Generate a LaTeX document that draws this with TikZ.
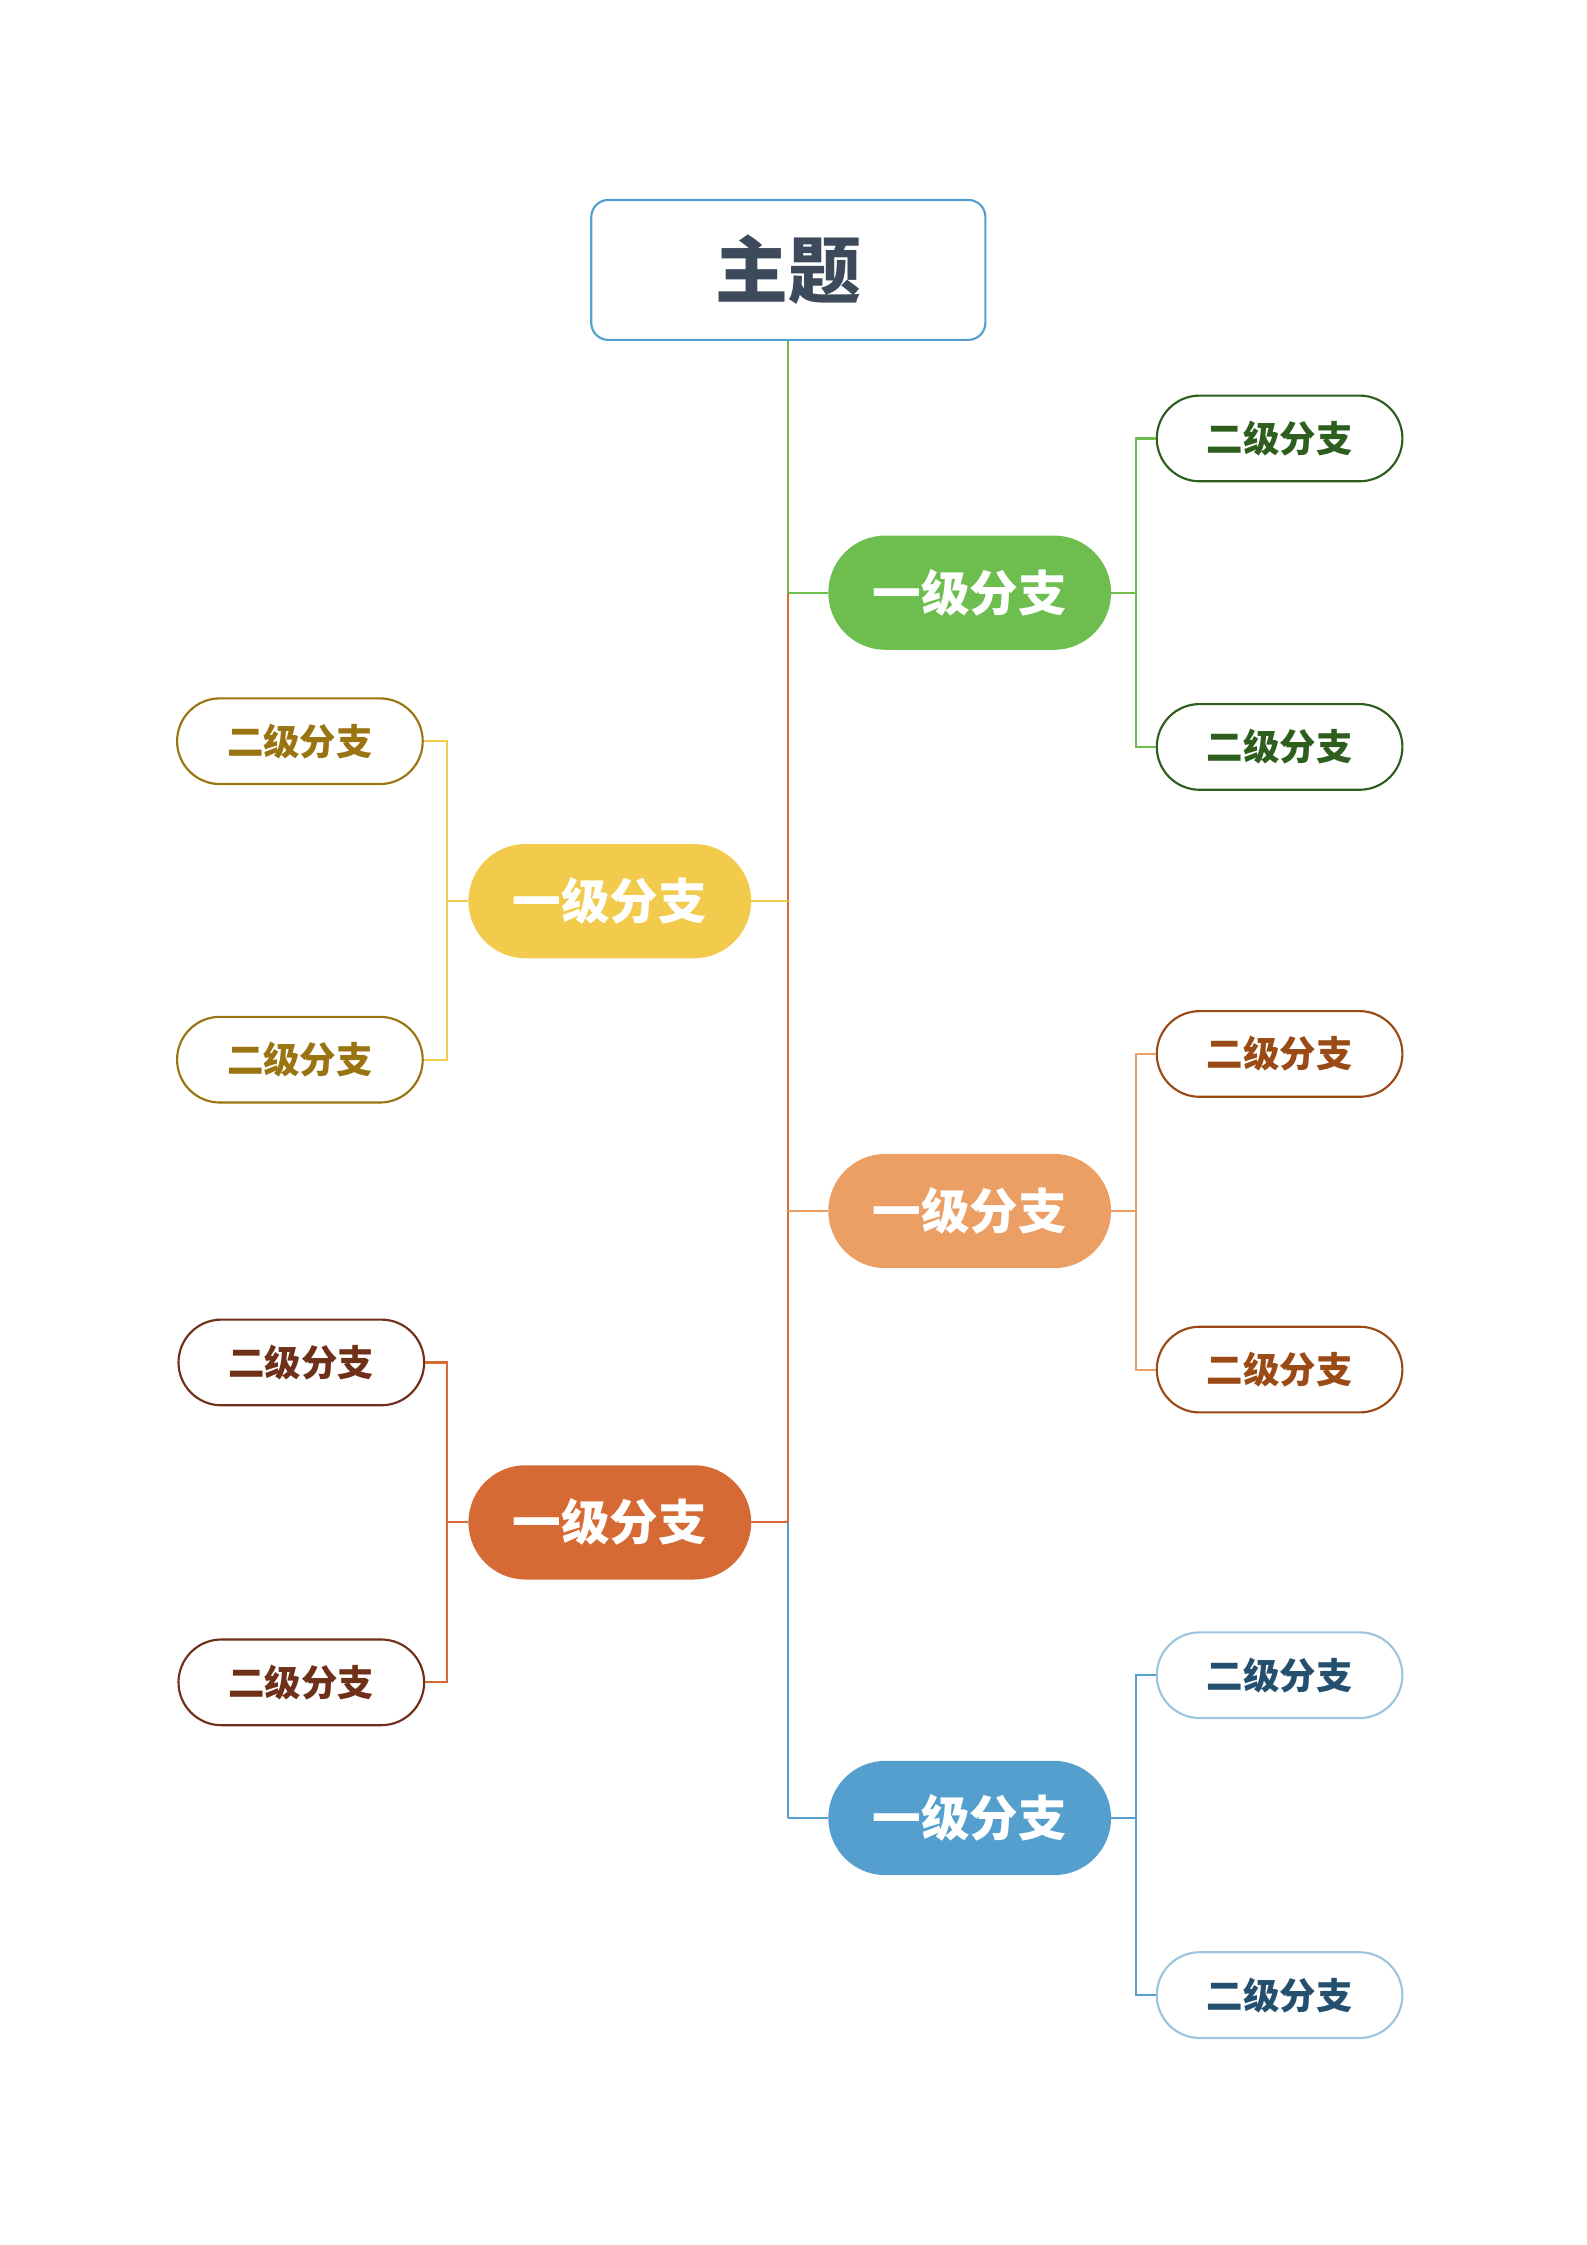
\documentclass[tikz,border=0pt]{standalone}
\usepackage{fontspec}
\setmainfont{Noto Sans CJK SC}
\definecolor{mainb}{HTML}{559FCF}
\definecolor{maint}{HTML}{3D4A5C}
\definecolor{cg}{HTML}{6DBD4F}\definecolor{tg}{HTML}{2E5E1E}
\definecolor{cy}{HTML}{F2CB4C}\definecolor{ty}{HTML}{9A7410}
\definecolor{clo}{HTML}{EB9F64}\definecolor{tlo}{HTML}{9A4A14}
\definecolor{co}{HTML}{D66A35}\definecolor{to}{HTML}{6E3018}
\definecolor{cb}{HTML}{559FCF}\definecolor{tb}{HTML}{254F6E}\definecolor{bb}{HTML}{9CC6E0}
\tikzset{
 lone/.style={rounded corners=40pt,minimum width=198pt,minimum height=80pt,fill=#1,text=white,font=\fontsize{34}{34}\selectfont\bfseries,inner sep=0pt},
 ltwo/.style={rounded corners=30pt,minimum width=172pt,minimum height=60pt,fill=white,draw=#1,line width=1.5pt,font=\fontsize{25.5}{26}\selectfont\bfseries,inner sep=0pt},
 con/.style={draw=#1,line width=1.5pt}
}
\begin{document}
\begin{tikzpicture}[x=1pt,y=-1pt]
\useasboundingbox (0,0) rectangle (1111,1572);
\node[draw=mainb,line width=1.5pt,rounded corners=12pt,minimum width=276pt,minimum height=98pt,text=maint,font=\fontsize{51}{51}\selectfont\bfseries,inner sep=0pt] (m) at (552,189) {主题};
\coordinate (t1) at (552,415);\coordinate (t2) at (552,631);\coordinate (t3) at (552,848);
\coordinate (t4) at (552,1066);\coordinate (t5) at (552,1273);
\node[lone=cg] (a) at (679,415) {一级分支};
\node[lone=cy] (b) at (427,631) {一级分支};
\node[lone=clo] (c) at (679,848) {一级分支};
\node[lone=co] (d) at (427,1066) {一级分支};
\node[lone=cb] (e) at (679,1273) {一级分支};
\node[ltwo=tg,text=tg] (a1) at (896,307) {二级分支};
\node[ltwo=tg,text=tg] (a2) at (896,523) {二级分支};
\node[ltwo=ty,text=ty] (b1) at (210,519) {二级分支};
\node[ltwo=ty,text=ty] (b2) at (210,742) {二级分支};
\node[ltwo=tlo,text=tlo] (c1) at (896,738) {二级分支};
\node[ltwo=tlo,text=tlo] (c2) at (896,959) {二级分支};
\node[ltwo=to,text=to] (d1) at (211,954) {二级分支};
\node[ltwo=to,text=to] (d2) at (211,1178) {二级分支};
\node[ltwo=bb,text=tb] (e1) at (896,1173) {二级分支};
\node[ltwo=bb,text=tb] (e2) at (896,1397) {二级分支};
% trunk
\draw[con=cg] (m.south) -- (t1);
\draw[con=co] (t1) -- (t4);
\draw[con=cb] (t4) -- (t5);
\draw[con=cg] (t1) -- (a.west);
\draw[con=cy] (t2) -- (b.east);
\draw[con=clo] (t3) -- (c.west);
\draw[con=co] (t4) -- (d.east);
\draw[con=cb] (t5) -- (e.west);
% children
\draw[con=cg] (a.east) -- ++(17,0) |- (a1.west);
\draw[con=cg] (a.east) -- ++(17,0) |- (a2.west);
\draw[con=cy] (b.west) -- ++(-15,0) |- (b1.east);
\draw[con=cy] (b.west) -- ++(-15,0) |- (b2.east);
\draw[con=clo] (c.east) -- ++(17,0) |- (c1.west);
\draw[con=clo] (c.east) -- ++(17,0) |- (c2.west);
\draw[con=co] (d.west) -- ++(-15,0) |- (d1.east);
\draw[con=co] (d.west) -- ++(-15,0) |- (d2.east);
\draw[con=cb] (e.east) -- ++(17,0) |- (e1.west);
\draw[con=cb] (e.east) -- ++(17,0) |- (e2.west);
\end{tikzpicture}
\end{document}
